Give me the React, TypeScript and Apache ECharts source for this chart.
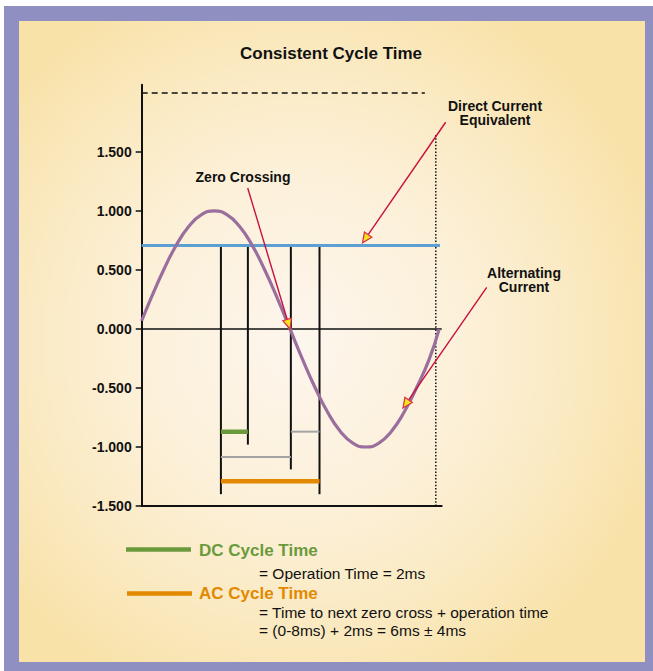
import React, { useEffect, useRef } from "react";
import * as echarts from "echarts";

// ---- data (x in degrees of the AC cycle, y in normalised amplitude) ----
const yTickValues = [-1.5, -1, -0.5, 0, 0.5, 1, 1.5];
const acWave: [number, number][] = [
  [4, 0.07], [15, 0.26], [30, 0.5], [45, 0.71], [60, 0.87], [75, 0.97],
  [90, 1.0], [105, 0.97], [120, 0.87], [135, 0.71], [150, 0.5], [165, 0.26],
  [180, 0.0], [195, -0.26], [210, -0.5], [225, -0.71], [240, -0.87], [255, -0.97],
  [270, -1.0], [285, -0.97], [300, -0.87], [315, -0.71], [330, -0.5], [345, -0.26],
  [357, 0.0],
];
const dcEquivalent = 0.707;
const dcLineX = [4, 358];
const zeroLineX = [4, 360];
const topDashedY = 2.0;
const topDashedX = [4, 340];
const cycleEndX = 353;
const cycleEndY = [-1.5, 1.66];
const markerX = [98, 130, 181, 215];
const markerBottom = [-1.4, -0.98, -1.19, -1.4];
const dcCycleBar: [number, number][] = [[98, -0.87], [130, -0.87]];
const acCycleBar: [number, number][] = [[98, -1.29], [215, -1.29]];
const grayRefA: [number, number][] = [[181, -0.87], [215, -0.87]];
const grayRefB: [number, number][] = [[98, -1.085], [181, -1.085]];
// arrows: [fromX, fromY, toX, toY]
const arrows: number[][] = [
  [129.8, 1.195, 180, 0.0],
  [364.7, 1.752, 266, 0.73],
  [413.4, 0.353, 314, -0.67],
];

const FONT = "'Liberation Sans', Arial, Helvetica, sans-serif";

export default function App() {
  const ref = useRef<HTMLDivElement>(null);

  useEffect(() => {
    if (!ref.current) return;
    const chart = echarts.init(ref.current, undefined, { renderer: "svg" });

    const seg = (data: any[], color: string, width: number, type: any = "solid", z = 3) => ({
      type: "line",
      data,
      symbol: "none",
      silent: true,
      z,
      lineStyle: { color, width, type, cap: "butt" },
    });

    const series: any[] = [];
    // zero line
    series.push(seg([[zeroLineX[0], 0], [zeroLineX[1], 0]], "#111", 1.6));
    // dashed top reference
    series.push(seg([[topDashedX[0], topDashedY], [topDashedX[1], topDashedY]], "#111", 1.5, [6, 4]));
    // dotted end-of-cycle line
    series.push(seg([[cycleEndX, cycleEndY[0]], [cycleEndX, cycleEndY[1]]], "#111", 1.5, [1.5, 1.8]));
    // vertical markers
    markerX.forEach((x, i) => {
      series.push(seg([[x, dcEquivalent], [x, markerBottom[i]]], "#111", 2));
    });
    // gray reference lines
    series.push(seg(grayRefA, "#a3a3a3", 2));
    series.push(seg(grayRefB, "#a3a3a3", 2));
    // cycle bars
    series.push(seg(dcCycleBar, "#6a9a3c", 4.5, "solid", 4));
    series.push(seg(acCycleBar, "#e28900", 4.5, "solid", 4));
    // DC equivalent line
    series.push(seg([[dcLineX[0], dcEquivalent], [dcLineX[1], dcEquivalent]], "#5c9fd2", 3, "solid", 5));
    // AC sine wave
    series.push({
      type: "line",
      data: acWave,
      smooth: true,
      symbol: "none",
      silent: true,
      z: 6,
      lineStyle: { color: "#9a6e9d", width: 3.2 },
    });
    // arrows
    series.push({
      type: "custom",
      clip: false,
      silent: true,
      z: 10,
      data: arrows,
      encode: { x: [0, 2], y: [1, 3] },
      renderItem: (_p: any, api: any) => {
        const a = api.coord([api.value(0), api.value(1)]);
        const b = api.coord([api.value(2), api.value(3)]);
        const dx = b[0] - a[0];
        const dy = b[1] - a[1];
        const len = Math.sqrt(dx * dx + dy * dy);
        const ux = dx / len;
        const uy = dy / len;
        const L = 10;
        const W = 4.5;
        const bx = b[0] - ux * L;
        const by = b[1] - uy * L;
        return {
          type: "group",
          children: [
            {
              type: "line",
              shape: { x1: a[0], y1: a[1], x2: bx + ux * 3, y2: by + uy * 3 },
              style: { stroke: "#c8103e", lineWidth: 1.4 },
            },
            {
              type: "polygon",
              shape: {
                points: [
                  [b[0], b[1]],
                  [bx - uy * W, by + ux * W],
                  [bx + uy * W, by - ux * W],
                ],
              },
              style: { fill: "#f4e21c", stroke: "#d8304a", lineWidth: 1.2 },
            },
          ],
        };
      },
    });

    const txt = (text: string, x: number, y: number, size: number, opts: any = {}) => ({
      type: "text",
      x,
      y,
      z: 100,
      silent: true,
      style: {
        text,
        fill: opts.color || "#111",
        font: `${opts.weight || "bold"} ${size}px ${FONT}`,
        align: opts.align || "center",
        verticalAlign: "middle",
        lineHeight: opts.lineHeight,
      },
    });

    chart.setOption({
      animation: false,
      backgroundColor: "transparent",
      grid: {
        left: 141.7,
        top: 84.7,
        width: 300,
        height: 421.3,
        containLabel: false,
        outerBoundsMode: "none",
      },
      xAxis: {
        type: "value",
        min: 4,
        max: 360,
        axisLine: { show: true, onZero: false, lineStyle: { color: "#111", width: 2 } },
        axisTick: { show: false },
        axisLabel: { show: false },
        splitLine: { show: false },
      },
      yAxis: {
        type: "value",
        min: -1.5,
        max: 2.07,
        interval: 0.5,
        axisLine: { show: true, onZero: false, lineStyle: { color: "#111", width: 2 } },
        axisTick: {
          show: true,
          length: 6,
          customValues: yTickValues,
          lineStyle: { color: "#111", width: 1.5 },
        },
        axisLabel: {
          show: true,
          margin: 10,
          customValues: yTickValues,
          formatter: (v: number) => v.toFixed(3),
          color: "#111",
          fontWeight: "bold",
          fontSize: 14,
          fontFamily: FONT,
        },
        splitLine: { show: false },
      },
      graphic: [
        txt("Consistent Cycle Time", 331, 53, 17),
        txt("Zero Crossing", 243, 177, 14),
        txt("Direct Current\nEquivalent", 495, 113, 14, { lineHeight: 14.5 }),
        txt("Alternating\nCurrent", 524, 280, 14, { lineHeight: 14.5 }),
        {
          type: "line",
          z: 100,
          shape: { x1: 126, y1: 549.5, x2: 191, y2: 549.5 },
          style: { stroke: "#6a9a3c", lineWidth: 4.5 },
        },
        {
          type: "line",
          z: 100,
          shape: { x1: 127, y1: 593.5, x2: 192, y2: 593.5 },
          style: { stroke: "#e28900", lineWidth: 4.5 },
        },
        txt("DC Cycle Time", 199, 550, 17, { align: "left", color: "#6a9a3c" }),
        txt("= Operation Time = 2ms", 259, 573, 15.5, { align: "left", weight: "normal" }),
        txt("AC Cycle Time", 199, 593, 17, { align: "left", color: "#e28900" }),
        txt("= Time to next zero cross + operation time", 259, 612, 15.5, { align: "left", weight: "normal" }),
        txt("= (0-8ms) + 2ms = 6ms \u00b1 4ms", 259, 630, 15.5, { align: "left", weight: "normal" }),
      ],
      series,
    });

    return () => chart.dispose();
  }, []);

  return (
    <div style={{ position: "absolute", left: 0, top: 0, width: 653, height: 671, background: "#ffffff", overflow: "hidden" }}>
      <div style={{ position: "absolute", left: 4, top: 6, width: 649, height: 665, background: "#8f8fc1" }} />
      <div
        style={{
          position: "absolute",
          left: 19,
          top: 21,
          width: 626,
          height: 641,
          background: "radial-gradient(ellipse 60% 60% at 45% 50%, #fdf6ee 0%, #fcf0d8 45%, #fae8bc 80%, #f8e2a8 100%)",
        }}
      />
      <div ref={ref} style={{ position: "absolute", left: 0, top: 0, width: 653, height: 671 }} />
    </div>
  );
}
